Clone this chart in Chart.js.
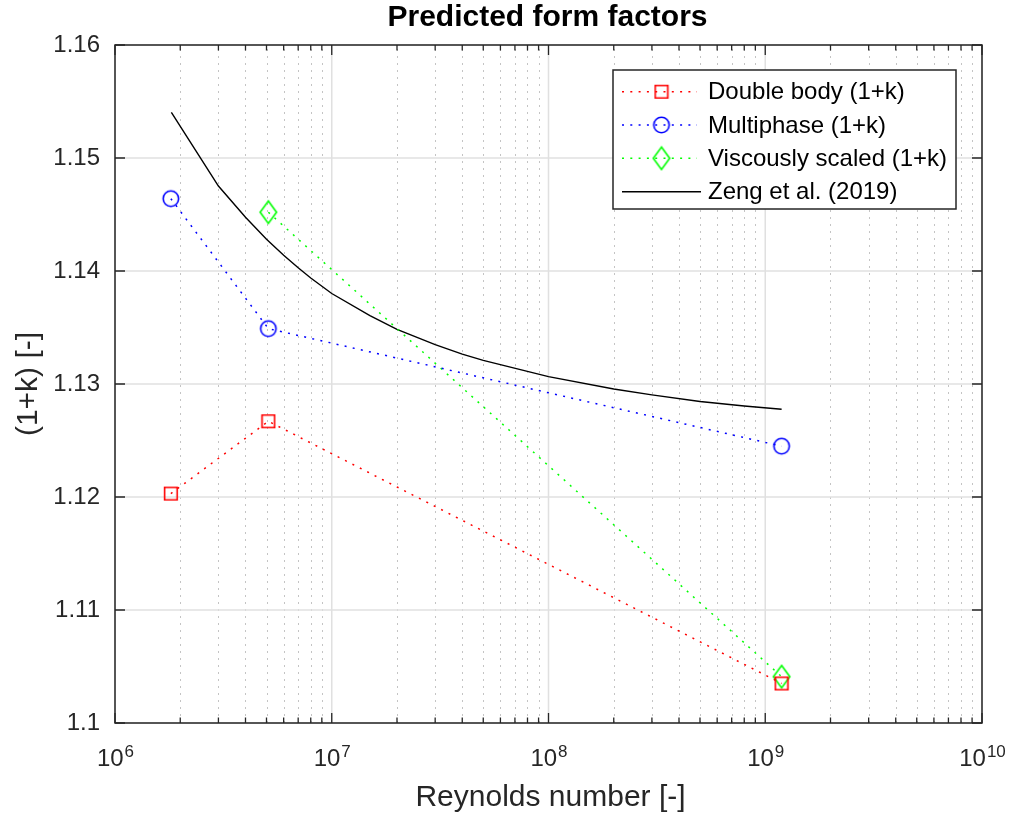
<!DOCTYPE html>
<html>
<head>
<meta charset="utf-8">
<script src="https://cdn.jsdelivr.net/npm/chart.js@4/dist/chart.umd.min.js"></script>
<style>
  html, body { margin: 0; padding: 0; background: #fff; }
  canvas { display: block; }
</style>
</head>
<body>
<canvas id="c" width="1011" height="816"></canvas>
<script>
// ---------------- data ----------------
const reynolds      = [1.81e6, 5.10e6, 1.19e9];
const doubleBody    = [1.1203, 1.1267, 1.1035];
const multiphase    = [1.1464, 1.1349, 1.1245];
const viscousRe     = [5.10e6, 1.19e9];
const viscous       = [1.1452, 1.1041];
const zengRe        = [1.82e6, 3e6, 4e6, 5e6, 6e6, 7e6, 8e6, 1e7, 1.5e7, 2e7, 3e7, 4e7, 5e7, 1e8, 2e8, 3e8, 5e8, 8e8, 1.19e9];
const zengK         = [1.15404, 1.14752, 1.14475, 1.14281, 1.14139, 1.14028, 1.13938, 1.13801, 1.13606, 1.13484, 1.13348, 1.13265, 1.13209, 1.13065, 1.12956, 1.12904, 1.12845, 1.12805, 1.12776];
const seriesNames   = ['Double body (1+k)', 'Multiphase (1+k)', 'Viscously scaled (1+k)', 'Zeng et al. (2019)'];
const xTicks        = [1e6, 1e7, 1e8, 1e9, 1e10];
const xTickExps     = ['6', '7', '8', '9', '10'];
const yTicks        = [1.10, 1.11, 1.12, 1.13, 1.14, 1.15, 1.16];
const yTickLabels   = ['1.1', '1.11', '1.12', '1.13', '1.14', '1.15', '1.16'];
const titleText     = 'Predicted form factors';
const xLabelText    = 'Reynolds number [-]';
const yLabelText    = '(1+k) [-]';

// ---------------- styling ----------------
const FONT = "'Liberation Sans', Arial, Helvetica, sans-serif";
const AXC = '#262626';
const RED = '#ff0000', BLUE = '#0000ff', GREEN = '#00ff00';

function markerCanvas(kind, color) {
  const c = document.createElement('canvas');
  const w = kind === 'diamond' ? 20 : (kind === 'circle' ? 20 : 16);
  const h = kind === 'diamond' ? 26 : w;
  c.width = w; c.height = h;
  const g = c.getContext('2d');
  g.strokeStyle = color; g.lineWidth = 1.6;
  const cx = w / 2, cy = h / 2;
  g.beginPath();
  if (kind === 'square') {
    g.rect(cx - 6.3, cy - 6.3, 12.6, 12.6);
  } else if (kind === 'circle') {
    g.arc(cx, cy, 7.7, 0, Math.PI * 2);
  } else {
    g.moveTo(cx, cy - 11.2); g.lineTo(cx + 8.2, cy); g.lineTo(cx, cy + 11.2); g.lineTo(cx - 8.2, cy); g.closePath();
  }
  g.stroke();
  return c;
}
const mkSquare = markerCanvas('square', RED);
const mkCircle = markerCanvas('circle', BLUE);
const mkDiamond = markerCanvas('diamond', GREEN);

const DOT = [2, 6.3];

const datasets = [
  { label: seriesNames[0], data: reynolds.map((x, i) => ({ x, y: doubleBody[i] })),
    borderColor: RED, borderWidth: 1.5, borderDash: DOT, pointStyle: mkSquare, marker: mkSquare, fill: false },
  { label: seriesNames[1], data: reynolds.map((x, i) => ({ x, y: multiphase[i] })),
    borderColor: BLUE, borderWidth: 1.5, borderDash: DOT, pointStyle: mkCircle, marker: mkCircle, fill: false },
  { label: seriesNames[2], data: viscousRe.map((x, i) => ({ x, y: viscous[i] })),
    borderColor: GREEN, borderWidth: 1.5, borderDash: DOT, pointStyle: mkDiamond, marker: mkDiamond, fill: false },
  { label: seriesNames[3], data: zengRe.map((x, i) => ({ x, y: zengK[i] })),
    borderColor: '#000000', borderWidth: 1.4, borderDash: [], pointRadius: 0, pointStyle: false, marker: null, fill: false }
];

const matlabAxes = {
  id: 'matlabAxes',
  beforeDraw(chart) {
    const ctx = chart.ctx;
    ctx.save(); ctx.fillStyle = '#fff'; ctx.fillRect(0, 0, chart.width, chart.height); ctx.restore();
  },
  beforeDatasetsDraw(chart) {
    const { ctx, chartArea: a, scales: { x, y } } = chart;
    ctx.save();
    // minor x grid (dotted)
    ctx.strokeStyle = '#c4c4c4'; ctx.lineWidth = 1; ctx.setLineDash([2, 5]);
    for (let d = 6; d < 10; d++) {
      for (let m = 2; m <= 9; m++) {
        const px = Math.round(x.getPixelForValue(m * Math.pow(10, d))) + 0.5;
        ctx.beginPath(); ctx.moveTo(px, a.bottom); ctx.lineTo(px, a.top); ctx.stroke();
      }
    }
    // major grid (solid)
    ctx.setLineDash([]); ctx.strokeStyle = '#e0e0e0'; ctx.lineWidth = 1.5;
    xTicks.forEach(v => {
      const px = x.getPixelForValue(v);
      ctx.beginPath(); ctx.moveTo(px, a.bottom); ctx.lineTo(px, a.top); ctx.stroke();
    });
    yTicks.forEach(v => {
      const py = y.getPixelForValue(v);
      ctx.beginPath(); ctx.moveTo(a.left, py); ctx.lineTo(a.right, py); ctx.stroke();
    });
    ctx.restore();
  },
  afterDatasetsDraw(chart) {
    const { ctx, chartArea: a, scales: { x, y } } = chart;
    ctx.save();
    ctx.strokeStyle = AXC; ctx.lineWidth = 1.3; ctx.setLineDash([]);
    // ticks (inward, all four sides)
    const major = 10, minor = 5.5;
    ctx.beginPath();
    for (let d = 6; d <= 10; d++) {
      const px = x.getPixelForValue(Math.pow(10, d));
      ctx.moveTo(px, a.bottom); ctx.lineTo(px, a.bottom - major);
      ctx.moveTo(px, a.top); ctx.lineTo(px, a.top + major);
      if (d < 10) {
        for (let m = 2; m <= 9; m++) {
          const qx = x.getPixelForValue(m * Math.pow(10, d));
          ctx.moveTo(qx, a.bottom); ctx.lineTo(qx, a.bottom - minor);
          ctx.moveTo(qx, a.top); ctx.lineTo(qx, a.top + minor);
        }
      }
    }
    yTicks.forEach(v => {
      const py = y.getPixelForValue(v);
      ctx.moveTo(a.left, py); ctx.lineTo(a.left + major, py);
      ctx.moveTo(a.right, py); ctx.lineTo(a.right - major, py);
    });
    ctx.stroke();
    // box
    ctx.lineWidth = 1.5;
    ctx.strokeRect(a.left, a.top, a.right - a.left, a.bottom - a.top);

    // x tick labels 10^n
    ctx.fillStyle = AXC; ctx.textBaseline = 'alphabetic'; ctx.textAlign = 'left';
    xTicks.forEach((v, i) => {
      const px = x.getPixelForValue(v);
      ctx.font = '24px ' + FONT; const wb = ctx.measureText('10').width;
      ctx.font = '17px ' + FONT; const we = ctx.measureText(xTickExps[i]).width;
      const x0 = px - (wb + we) / 2;
      ctx.font = '24px ' + FONT; ctx.fillText('10', x0, 766);
      ctx.font = '17px ' + FONT; ctx.fillText(xTickExps[i], x0 + wb + 1, 757);
    });

    // axis labels
    const cx = (a.left + a.right) / 2, cy = (a.top + a.bottom) / 2;
    ctx.font = '30px ' + FONT; ctx.textAlign = 'center'; ctx.textBaseline = 'alphabetic';
    ctx.fillText(xLabelText, cx + 2, 806);
    ctx.save(); ctx.translate(36.5, cy); ctx.rotate(-Math.PI / 2);
    ctx.fillText(yLabelText, 0, 0); ctx.restore();

    // title
    ctx.fillStyle = '#000'; ctx.font = 'bold 30px ' + FONT;
    ctx.fillText(titleText, cx - 1, 26);

    // legend
    const lx = 613, ly = 70, lw = 343, lh = 139;
    ctx.fillStyle = '#fff'; ctx.fillRect(lx, ly, lw, lh);
    ctx.strokeStyle = AXC; ctx.lineWidth = 1.5; ctx.strokeRect(lx, ly, lw, lh);
    const rows = [91.7, 125, 158.3, 191.7];
    chart.data.datasets.forEach((ds, i) => {
      const ry = rows[i];
      ctx.save();
      ctx.strokeStyle = ds.borderColor; ctx.lineWidth = ds.borderWidth;
      ctx.setLineDash(ds.borderDash || []);
      ctx.beginPath(); ctx.moveTo(622, ry); ctx.lineTo(ds.marker ? 697 : 701, ry); ctx.stroke();
      ctx.restore();
      if (ds.marker) {
        ctx.drawImage(ds.marker, 661.5 - ds.marker.width / 2, ry - ds.marker.height / 2);
      }
      ctx.fillStyle = '#000'; ctx.font = '24px ' + FONT; ctx.textAlign = 'left'; ctx.textBaseline = 'middle';
      ctx.fillText(ds.label, 708, ry + 1);
    });
    ctx.restore();
  }
};

new Chart(document.getElementById('c'), {
  type: 'line',
  data: { datasets },
  options: {
    responsive: false,
    animation: false,
    devicePixelRatio: 1,
    layout: { padding: { top: 45, right: 29, bottom: 0, left: 0 } },
    elements: { line: { tension: 0 } },
    plugins: { legend: { display: false }, tooltip: { enabled: false }, title: { display: false } },
    scales: {
      x: {
        type: 'logarithmic', min: 1e6, max: 1e10,
        afterBuildTicks: s => { s.ticks = xTicks.map(v => ({ value: v })); },
        afterFit: s => { s.height = 93; },
        ticks: { display: false },
        grid: { display: false, drawTicks: false },
        border: { display: false }
      },
      y: {
        type: 'linear', min: 1.10, max: 1.16,
        afterBuildTicks: s => { s.ticks = yTicks.map(v => ({ value: v })); },
        afterFit: s => { s.width = 115; },
        ticks: {
          padding: 15, color: AXC, font: { family: FONT, size: 24 },
          callback: (v, i) => yTickLabels[i]
        },
        grid: { display: false, drawTicks: false },
        border: { display: false }
      }
    }
  },
  plugins: [matlabAxes]
});
</script>
</body>
</html>
